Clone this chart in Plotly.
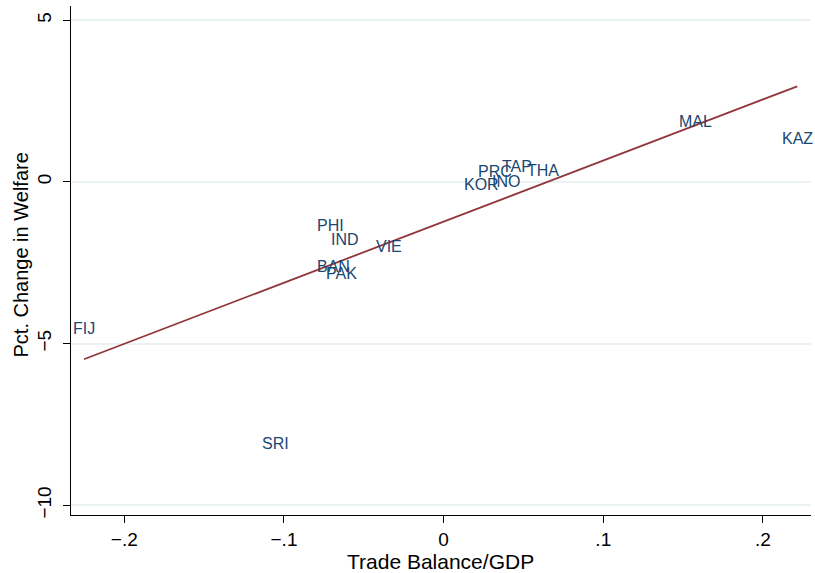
import numpy as np
import plotly.graph_objects as go

countries = ["FIJ", "SRI", "PHI", "IND", "VIE", "BAN", "PAK", "KOR", "PRC", "INO", "TAP", "THA", "MAL", "KAZ"]
trade_balance = [-0.2253, -0.1056, -0.071, -0.062, -0.034, -0.069, -0.064, 0.024, 0.032, 0.039, 0.046, 0.062, 0.1575, 0.2215]
welfare_change = [-4.48, -8.04, -1.30, -1.73, -1.95, -2.54, -2.78, -0.02, 0.37, 0.09, 0.53, 0.43, 1.92, 1.39]

x_ticks = [-0.2, -0.1, 0, 0.1, 0.2]
x_ticklabels = ["\u2212.2", "\u2212.1", "0", ".1", ".2"]
y_ticks = [-10, -5, 0, 5]
y_ticklabels = ["\u221210", "\u22125", "0", "5"]

slope, intercept = np.polyfit(trade_balance, welfare_change, 1)
fit_x = np.array([min(trade_balance), max(trade_balance)])
fit_y = intercept + slope * fit_x

FONT = "Liberation Sans, Arial, sans-serif"

fig = go.Figure()
# invisible points (labels are drawn as data-anchored annotations)
fig.add_trace(go.Scatter(
    x=trade_balance, y=welfare_change, mode="markers",
    marker=dict(size=1, opacity=0), showlegend=False, hoverinfo="skip",
))
fig.add_trace(go.Scatter(
    x=fit_x, y=fit_y, mode="lines",
    line=dict(color="#90353b", width=1.8),
    showlegend=False,
))

label_annotations = [
    dict(text=name, x=xv, y=yv, xref="x", yref="y", showarrow=False,
         xanchor="center", yanchor="middle", yshift=-2,
         font=dict(family=FONT, size=16, color="#1a476f"))
    for name, xv, yv in zip(countries, trade_balance, welfare_change)
]

fig.update_layout(
    width=815, height=573,
    margin=dict(l=71, r=4, t=6, b=58, autoexpand=False),
    paper_bgcolor="white", plot_bgcolor="white",
    font=dict(family=FONT, size=18, color="black"),
    annotations=label_annotations + [
        dict(text="Trade Balance/GDP", x=0.5, y=0, xref="paper", yref="paper",
             xanchor="center", yanchor="middle", yshift=-46, xshift=-1, showarrow=False,
             font=dict(family=FONT, size=21, color="black")),
        dict(text="Pct. Change in Welfare", x=0, y=0.5, xref="paper", yref="paper",
             xanchor="center", yanchor="middle", xshift=-51, yshift=5, textangle=-90,
             showarrow=False, font=dict(family=FONT, size=20, color="black")),
    ],
)
fig.update_xaxes(
    range=[-0.2334, 0.2301], automargin=False,
    tickvals=x_ticks, ticktext=x_ticklabels,
    ticks="outside", ticklen=7, tickcolor="black", tickwidth=1,
    showgrid=False, zeroline=False,
    showline=True, linecolor="black", linewidth=1.2,
    tickfont=dict(size=19),
)
fig.update_yaxes(
    range=[-10.3, 5.44], automargin=False,
    tickvals=y_ticks, ticktext=y_ticklabels, tickangle=-90,
    ticks="outside", ticklen=7, tickcolor="black", tickwidth=1,
    ticklabelstandoff=4,
    showgrid=True, gridcolor="#eaf2f3", gridwidth=1.5, zeroline=False,
    showline=True, linecolor="black", linewidth=1.2,
    tickfont=dict(size=19),
)

fig.write_html("out.html", config={"displayModeBar": False},
               post_script="document.body.style.margin='0';document.body.style.overflow='hidden';")
